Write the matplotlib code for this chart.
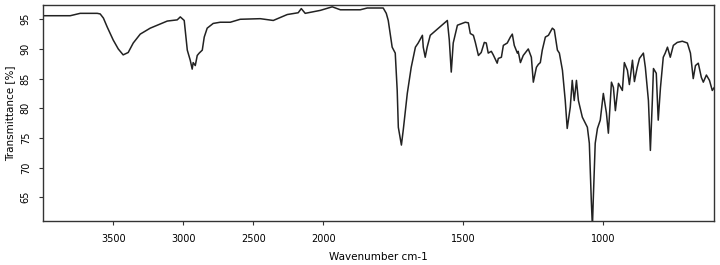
import numpy as np
import matplotlib
matplotlib.use("Agg")
import matplotlib.pyplot as plt

# IR spectrum (wavenumber cm-1, transmittance %)
wavenumber = [4000, 3807, 3736, 3614, 3593, 3570, 3543, 3500, 3464, 3429, 3393, 3357, 3307,
              3236, 3114, 3043, 3021, 2993, 2971, 2950, 2936, 2929, 2914, 2900, 2886,
              2864, 2850, 2829, 2786, 2736, 2664, 2593, 2450, 2357, 2257, 2179, 2157,
              2129, 2021, 1968, 1939, 1868, 1843, 1786, 1775, 1768, 1754, 1743, 1736, 1732,
              1721, 1714, 1700, 1686, 1671, 1661, 1646, 1643, 1636, 1629, 1618, 1557,
              1550, 1543, 1536, 1521, 1493, 1482, 1475, 1464, 1457, 1446, 1436, 1425,
              1418, 1411, 1400, 1393, 1379, 1375, 1364, 1357, 1343, 1332, 1325, 1318,
              1307, 1304, 1296, 1286, 1271, 1268, 1257, 1250, 1239, 1232, 1225, 1218,
              1207, 1196, 1182, 1175, 1164, 1157, 1146, 1136, 1129, 1118, 1111, 1104,
              1096, 1089, 1075, 1057, 1050, 1043, 1039, 1036, 1029, 1021, 1011, 1000,
              989, 982, 971, 964, 957, 946, 932, 925, 914, 907, 896, 889, 879, 871,
              857, 850, 839, 832, 825, 821, 811, 804, 796, 786, 779, 771, 761, 750,
              736, 718, 700, 689, 679, 671, 661, 650, 643, 632, 621, 611, 604]
transmittance = [95.6, 95.6, 96.0, 96.0, 95.9, 95.2, 93.7, 91.5, 90.0, 89.0, 89.4, 91.0, 92.5,
                 93.5, 94.7, 94.9, 95.4, 94.8, 89.8, 88.1, 86.6, 87.7, 87.2, 88.9, 89.3,
                 89.8, 92.0, 93.5, 94.3, 94.5, 94.5, 95.0, 95.1, 94.8, 95.8, 96.1, 96.8,
                 96.0, 96.5, 97.1, 96.6, 96.6, 96.9, 96.9, 96.0, 94.8, 90.3, 89.3, 83.0, 76.8,
                 73.8, 76.5, 82.5, 86.9, 90.3, 91.0, 92.3, 90.3, 88.6, 90.3, 92.3, 94.8,
                 91.5, 86.1, 91.0, 94.0, 94.5, 94.4, 92.6, 92.3, 91.1, 88.9, 89.4, 91.1,
                 91.0, 89.3, 89.6, 89.0, 87.6, 88.4, 88.6, 90.6, 91.0, 92.0, 92.5, 90.6,
                 89.3, 89.6, 87.7, 88.9, 89.8, 90.0, 88.6, 84.4, 86.9, 87.4, 87.7, 89.8,
                 92.0, 92.3, 93.5, 93.2, 89.8, 89.3, 86.4, 81.3, 76.6, 80.2, 84.7, 81.3,
                 84.7, 81.3, 78.5, 76.8, 74.1, 64.5, 60.0, 64.5, 74.1, 76.6, 78.0, 82.5,
                 79.2, 75.8, 84.4, 83.5, 79.6, 84.2, 83.0, 87.7, 86.4, 84.0, 88.1, 84.5,
                 86.9, 88.4, 89.3, 86.9, 81.3, 72.9, 81.3, 86.7, 85.9, 78.0, 83.5, 88.6,
                 89.3, 90.3, 88.6, 90.6, 91.1, 91.3, 91.0, 89.3, 85.0, 87.2, 87.6, 85.2,
                 84.4, 85.6, 84.7, 83.0, 83.5]

x_ticks = [3500, 3000, 2500, 2000, 1500, 1000]
y_ticks = [65, 70, 75, 80, 85, 90, 95]


# axis is compressed by half above 2000 cm-1
def forward(x):
    x = np.asarray(x, dtype=float)
    return np.where(x > 2000, 2000 + (x - 2000) / 2, x)


def inverse(y):
    y = np.asarray(y, dtype=float)
    return np.where(y > 2000, 2000 + (y - 2000) * 2, y)


fig = plt.figure(figsize=(7.2, 2.65), dpi=100)
ax = fig.add_axes([0.06, 0.166, 0.932, 0.815])
ax.plot(wavenumber, transmittance, color="#222222", linewidth=1.1)

ax.set_xscale("function", functions=(forward, inverse))
ax.set_xlim(4000, 604)
ax.set_ylim(61, 97.4)
ax.set_xticks(x_ticks)
ax.set_xticklabels([str(t) for t in x_ticks])
ax.set_yticks(y_ticks)
ax.set_yticklabels([str(t) for t in y_ticks], rotation=90, va="center")
ax.minorticks_off()
ax.tick_params(labelsize=7, length=3, width=0.8, color="#333333", pad=6)
ax.set_xlabel("Wavenumber cm-1", fontsize=7.5, labelpad=6)
ax.set_ylabel("Transmittance [%]", fontsize=7.5, labelpad=4)
for s in ax.spines.values():
    s.set_color("#333333")
    s.set_linewidth(1.0)

fig.savefig("out.png", dpi=100)
